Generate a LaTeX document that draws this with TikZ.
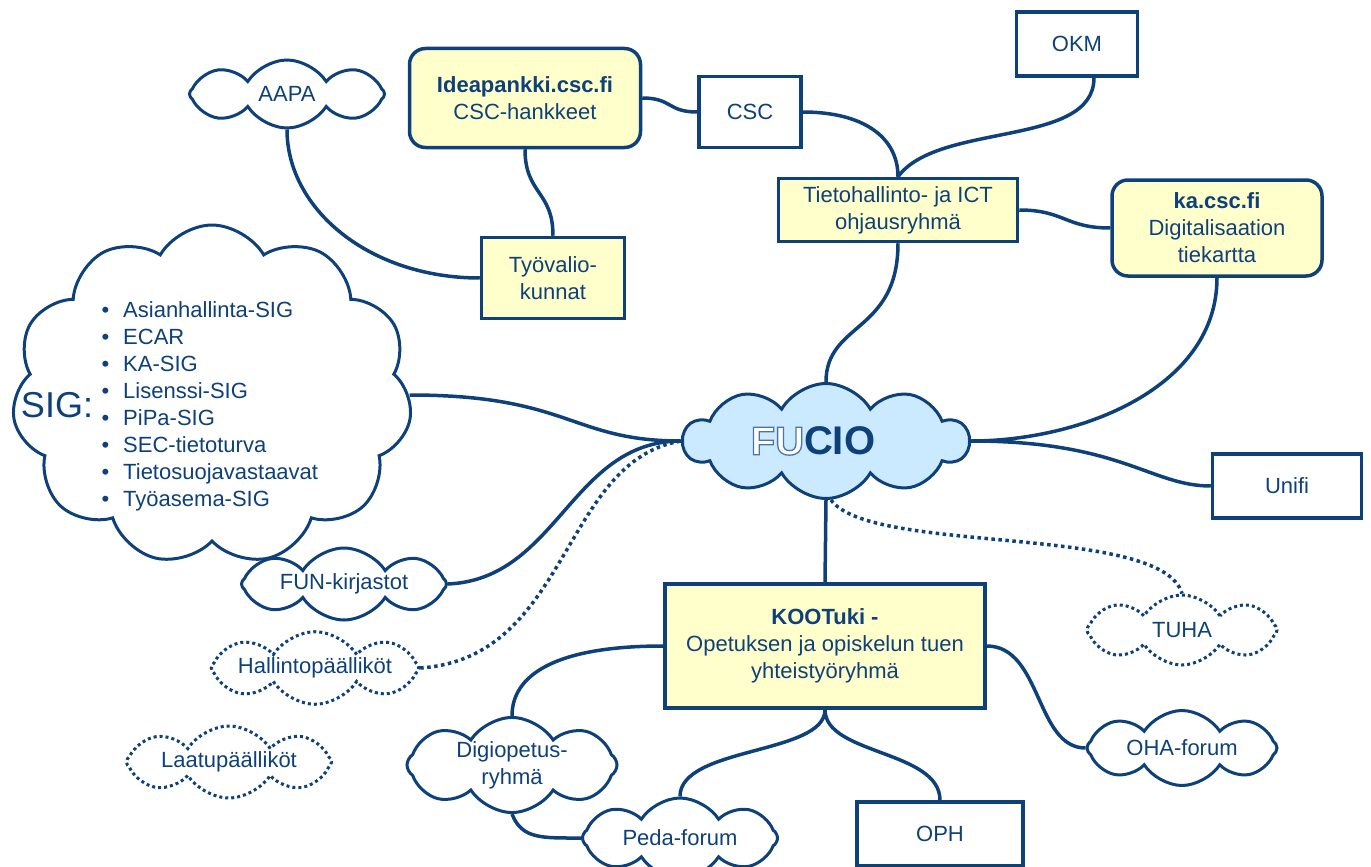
\documentclass[tikz,border=0pt]{standalone}
\usepackage{fontspec}
\setmainfont{Liberation Sans}
\usetikzlibrary{shapes.symbols}
\definecolor{mainblue}{RGB}{14,64,122}
\definecolor{boxfill}{RGB}{255,255,204}
\definecolor{cloudfill}{RGB}{204,234,255}
\newcommand{\outlinetext}[1]{{\color{white}\special{pdf:code 2 Tr 1.3 w 0.3 0.45 0.65 RG}#1\special{pdf:code 0 Tr}}}
\tikzset{
  plainbox/.style={draw=mainblue, line width=3.5pt, fill=white, align=center,
    inner sep=0pt, text=mainblue, font=\fontsize{22}{27}\selectfont},
  yellowbox/.style={plainbox, fill=boxfill},
  roundbox/.style={yellowbox, rounded corners=16pt},
  puff/.style={cloud, cloud puffs=8, cloud puff arc=115, cloud ignores aspect, draw=mainblue,
    line width=3pt, fill=white, align=center, inner sep=0pt, text=mainblue,
    font=\fontsize{22}{27}\selectfont},
  dottedpuff/.style={puff, dash pattern=on 3pt off 3pt},
  link/.style={draw=mainblue, line width=3.5pt},
  dottedlink/.style={link, dash pattern=on 3.5pt off 3.5pt}
}

\begin{document}
\begin{tikzpicture}[x=1pt, y=-1pt]
            \clip (0,0) rectangle (1371,867);
            % boxes
            \node[roundbox, minimum width=231pt, minimum height=99pt] (ideapankki) at (525,98)
                  {\textbf{Ideapankki.csc.fi}\\CSC-hankkeet};
            \node[plainbox, minimum width=102pt, minimum height=71pt] (csc) at (750,112) {CSC};
            \node[plainbox, minimum width=121pt, minimum height=64pt] (okm) at (1077,44) {OKM};
            \node[yellowbox, minimum width=239pt, minimum height=63pt] (tiha) at (898,210)
                  {Tietohallinto- ja ICT\\ohjausryhmä};
            \node[roundbox, minimum width=210pt, minimum height=96pt] (kacsc) at (1217,228)
                  {\textbf{ka.csc.fi}\\Digitalisaation\\tiekartta};
            \node[yellowbox, minimum width=143pt, minimum height=81pt] (tyovk) at (553,278)
                  {Työvalio-\\kunnat};
            \node[plainbox, minimum width=149pt, minimum height=64pt] (unifi) at (1287,486) {Unifi};
            \node[yellowbox, minimum width=320pt, minimum height=124pt] (kootuki) at (825,646)
                  {\textbf{KOOTuki -}\\Opetuksen ja opiskelun tuen\\yhteistyöryhmä};
            \node[plainbox, minimum width=166pt, minimum height=64pt] (oph) at (940,834) {OPH};
            % clouds
            \node[puff, minimum width=195pt, minimum height=68pt] (aapa) at (287,94) {AAPA};
            \node[puff, cloud puffs=11, cloud puff arc=120, minimum width=400pt, minimum height=340pt] (sig) at (212,395) {};
            \node[text=mainblue, font=\fontsize{36}{40}\selectfont] (sigtitle) at (57,405) {SIG:};
            \node[text=mainblue, anchor=west, font=\fontsize{22}{27}\selectfont] (siglist) at (98,407)
                  {\begin{tabular}{@{}l@{\hspace{14pt}}l@{}}
                   • & Asianhallinta-SIG\\ • & ECAR\\ • & KA-SIG\\ • & Lisenssi-SIG\\
                   • & PiPa-SIG\\ • & SEC-tietoturva\\ • & Tietosuojavastaavat\\ • & Työasema-SIG
                   \end{tabular}};
            \node[puff, cloud puffs=10, cloud puff arc=120, fill=cloudfill, minimum width=285pt, minimum height=115pt,
                  font=\fontsize{40}{44}\selectfont\bfseries] (fucio) at (826,441)
                  {\outlinetext{FU}CIO\hspace*{26pt}};
            \node[puff, minimum width=205pt, minimum height=72pt] (funkir) at (344,584) {FUN-kirjastot};
            \node[dottedpuff, minimum width=205pt, minimum height=72pt] (hallinto) at (315,668) {Hallintopäälliköt};
            \node[dottedpuff, minimum width=205pt, minimum height=72pt] (laatu) at (229,762) {Laatupäälliköt};
            \node[dottedpuff, minimum width=190pt, minimum height=70pt] (tuha) at (1182,630) {TUHA};
            \node[puff, minimum width=190pt, minimum height=75pt] (oha) at (1182,748) {OHA-forum};
            \node[puff, minimum width=210pt, minimum height=95pt] (digi) at (512,765) {Digiopetus-\\ryhmä};
            \node[puff, minimum width=195pt, minimum height=80pt] (peda) at (680,838) {Peda-forum};
            % connectors
            \draw[link] (aapa.south) .. controls +(0,80) and +(-110,0) .. (tyovk.west)
                  (ideapankki.south) .. controls +(0,45) and +(0,-45) .. (tyovk.north)
                  (ideapankki.east) .. controls +(30,0) and +(-30,0) .. (csc.west)
                  (csc.east) .. controls +(60,0) and +(0,-40) .. (tiha.north)
                  ([xshift=17pt]okm.south) .. controls +(0,70) and +(40,-55) .. (tiha.north)
                  (tiha.east) .. controls +(45,0) and +(-45,0) .. (kacsc.west)
                  (tiha.south) .. controls +(0,90) and +(0,-60) .. (fucio.north)
                  (kacsc.south) .. controls +(0,110) and +(110,0) .. (fucio.east)
                  (fucio.east) .. controls +(150,0) and +(-60,0) .. (unifi.west)
                  (sig.east) .. controls +(160,0) and +(-110,0) .. (fucio.west)
                  (funkir.east) .. controls +(110,-5) and +(-110,0) .. (fucio.west)
                  (fucio.south) -- (kootuki.north)
                  (kootuki.east) .. controls +(55,0) and +(-50,0) .. (oha.west)
                  (kootuki.west) .. controls +(-110,0) and +(0,-40) .. (digi.north)
                  (kootuki.south) .. controls +(0,45) and +(0,-50) .. (peda.north)
                  (kootuki.south) .. controls +(0,45) and +(0,-50) .. (oph.north)
                  (digi.south) .. controls +(10,25) and +(-40,0) .. (peda.west);
            \draw[dottedlink] (hallinto.east) .. controls +(150,-10) and +(-120,20) .. (fucio.west)
                  ([xshift=5pt]fucio.south) .. controls +(40,55) and +(-20,-70) .. (tuha.north);
        \end{tikzpicture}
\end{document}
